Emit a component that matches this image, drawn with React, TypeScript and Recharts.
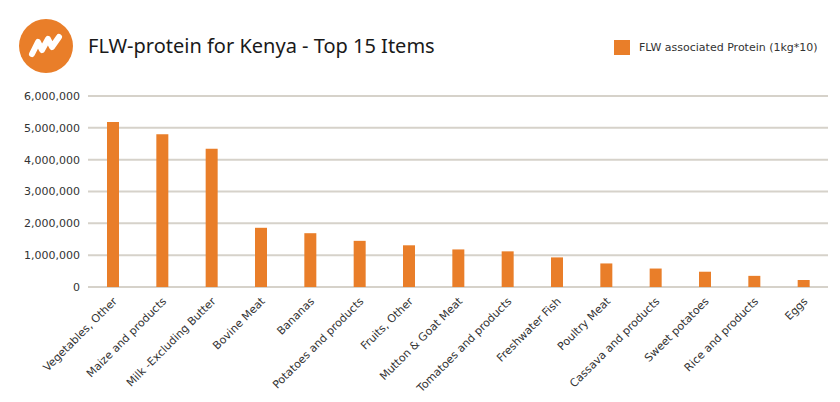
import { Bar, BarChart, CartesianGrid, XAxis, YAxis } from 'recharts';

const categories = [
  'Vegetables, Other',
  'Maize and products',
  'Milk -Excluding Butter',
  'Bovine Meat',
  'Bananas',
  'Potatoes and products',
  'Fruits, Other',
  'Mutton & Goat Meat',
  'Tomatoes and products',
  'Freshwater Fish',
  'Poultry Meat',
  'Cassava and products',
  'Sweet potatoes',
  'Rice and products',
  'Eggs',
];

const proteinValues = [
  5180000, 4800000, 4340000, 1860000, 1690000, 1450000, 1310000, 1180000,
  1120000, 930000, 740000, 580000, 480000, 350000, 220000,
];

const yTicks = [0, 1000000, 2000000, 3000000, 4000000, 5000000, 6000000];

const seriesName = 'FLW associated Protein (1kg*10)';
const title = 'FLW-protein for Kenya - Top 15 Items';

const ORANGE = '#E97E29';
const axisFont = '"DejaVu Sans", Verdana, sans-serif';

const data = categories.map((name, i) => ({ name, value: proteinValues[i] }));

const RotatedTick = (props: any) => {
  const { x, y, payload } = props;
  return (
    <g transform={`translate(${x + 5},${y + 7})`}>
      <text
        transform="rotate(-45)"
        textAnchor="end"
        fontSize={11}
        fontFamily={axisFont}
        fill="#333"
      >
        {payload.value}
      </text>
    </g>
  );
};

const Logo = () => (
  <svg width={54} height={54} viewBox="0 0 54 54" style={{ position: 'absolute', left: 19, top: 19 }}>
    <circle cx={27} cy={27} r={27} fill={ORANGE} />
    <path
      d="M13 35 L19 23 L23 31 L29 20 L33 28 L40 18"
      fill="none"
      stroke="#fff"
      strokeWidth={6}
      strokeLinecap="round"
      strokeLinejoin="round"
    />
  </svg>
);

export default function App() {
  return (
    <div style={{ position: 'relative', width: 840, height: 402, margin: -8, background: '#fff' }}>
      <Logo />
      <div
        style={{
          position: 'absolute',
          left: 88,
          top: 32,
          fontFamily: '"Noto Sans", sans-serif',
          fontSize: 20,
          color: '#1a1a1a',
          whiteSpace: 'nowrap',
        }}
      >
        {title}
      </div>
      <div
        style={{
          position: 'absolute',
          left: 614,
          top: 40,
          display: 'flex',
          alignItems: 'center',
          fontFamily: axisFont,
          fontSize: 11,
          color: '#333',
          whiteSpace: 'nowrap',
        }}
      >
        <span style={{ width: 16, height: 15, background: ORANGE, display: 'inline-block', marginRight: 9 }} />
        <span>{seriesName}</span>
      </div>
      <div style={{ position: 'absolute', left: 0, top: 0 }}>
        <BarChart
          width={840}
          height={402}
          data={data}
          margin={{ top: 96, right: 12, left: 0, bottom: 0 }}
          barCategoryGap={0}
        >
          <CartesianGrid vertical={false} stroke="#d6d2ca" strokeWidth={2} />
          <XAxis
            dataKey="name"
            interval={0}
            height={115}
            tick={<RotatedTick />}
            axisLine={false}
            tickLine={false}
          />
          <YAxis
            width={88}
            domain={[0, 6000000]}
            ticks={yTicks}
            axisLine={false}
            tickLine={false}
            tick={{ fontSize: 11, fontFamily: axisFont, fill: '#333' }}
            tickFormatter={(v: number) => v.toLocaleString('en-US')}
          />
          <Bar dataKey="value" name={seriesName} fill={ORANGE} barSize={12} isAnimationActive={false} />
        </BarChart>
      </div>
    </div>
  );
}
